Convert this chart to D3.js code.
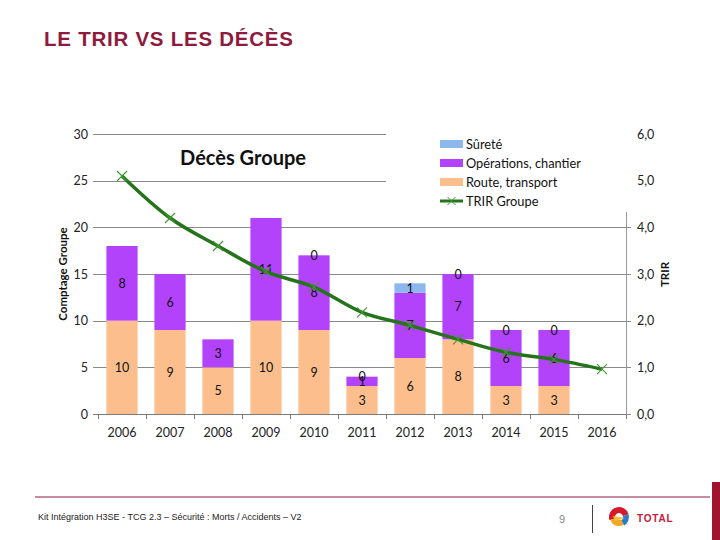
<!DOCTYPE html>
<html><head><meta charset="utf-8">
<script src="https://cdn.jsdelivr.net/npm/d3@7/dist/d3.min.js"></script>
<style>
html,body{margin:0;padding:0;background:#fff;}
svg{display:block;}
</style></head>
<body>
<svg id="c" width="720" height="540"></svg>
<script>
const years = ["2006","2007","2008","2009","2010","2011","2012","2013","2014","2015","2016"];
const route = [10, 9, 5, 10, 9, 3, 6, 8, 3, 3, null];
const operations = [8, 6, 3, 11, 8, 1, 7, 7, 6, 6, null];
const surete = [null, null, null, null, 0, 0, 1, 0, 0, 0, null];
const trir = [5.1, 4.2, 3.6, 3.05, 2.72, 2.18, 1.9, 1.6, 1.32, 1.17, 0.96];
const leftTicks = [0, 5, 10, 15, 20, 25, 30];
const rightTicks = [0, 1, 2, 3, 4, 5, 6];
const seriesNames = ["Sûreté", "Opérations, chantier", "Route, transport", "TRIR Groupe"];
const pageTitle = "LE TRIR VS LES DÉCÈS";
const chartTitle = "Décès Groupe";
const footerText = "Kit Intégration H3SE - TCG 2.3 – Sécurité : Morts / Accidents – V2";

const colors = {surete:"#8db8ee", ops:"#b342fb", route:"#fbbe8c", line:"#25741c", marker:"#3d9a2e"};
const font = "Lato, 'Open Sans', sans-serif";

const svg = d3.select("#c");
const X0 = 98, X1 = 626, Y0 = 414, Y1 = 134;

const x = d3.scaleBand().domain(years).range([X0, X1]).paddingInner(0.35).paddingOuter(0.175);
const y = d3.scaleLinear().domain([0, 30]).range([Y0, Y1]);
const y2 = d3.scaleLinear().domain([0, 6]).range([Y0, Y1]);

// page title
svg.append("text").attr("x", 44).attr("y", 46)
  .attr("font-family", "'Liberation Sans', Arial, sans-serif").attr("font-weight", "bold")
  .attr("font-size", 20.5).attr("letter-spacing", 0.75).attr("fill", "#8e1a3d").text(pageTitle);

// gridlines (left axis)
const g = svg.append("g");
g.selectAll("line.grid").data(leftTicks.filter(d => d > 0)).join("line")
  .attr("x1", X0 - 5).attr("x2", X1 + 5)
  .attr("y1", d => Math.round(y(d)) + 0.5).attr("y2", d => Math.round(y(d)) + 0.5)
  .attr("stroke", "#8a8a8a").attr("stroke-width", 1);
// baseline
g.append("line").attr("x1", X0 - 5).attr("x2", X1 + 5).attr("y1", Y0 + 0.5).attr("y2", Y0 + 0.5)
  .attr("stroke", "#7a7a7a");
// x ticks at band boundaries
const bounds = years.map(d => x(d) - x.step() * x.paddingInner() / 2).concat([X1]);
g.selectAll("line.xt").data(bounds).join("line")
  .attr("x1", d => Math.round(d) + 0.5).attr("x2", d => Math.round(d) + 0.5)
  .attr("y1", Y0).attr("y2", Y0 + 5).attr("stroke", "#7a7a7a");
// right axis line
g.append("line").attr("x1", X1 + 0.5).attr("x2", X1 + 0.5).attr("y1", Y1).attr("y2", Y0)
  .attr("stroke", "#9a9a9a");

// bars
const stackData = years.map((yr, i) => ({yr, route: route[i] || 0, ops: operations[i] || 0, sur: surete[i] || 0, i}));
const stack = d3.stack().keys(["route", "ops", "sur"])(stackData);
const fillFor = {route: colors.route, ops: colors.ops, sur: colors.surete};
const bars = svg.append("g");
stack.forEach(layer => {
  bars.selectAll(null).data(layer.filter(d => d[1] > d[0])).join("rect")
    .attr("x", d => x(d.data.yr)).attr("width", x.bandwidth())
    .attr("y", d => y(d[1])).attr("height", d => y(d[0]) - y(d[1]))
    .attr("fill", fillFor[layer.key]);
});

// data labels
const labels = svg.append("g").attr("font-family", font).attr("font-size", 12.5)
  .attr("text-anchor", "middle").attr("fill", "#111");
const labelSets = [
  {vals: route, base: () => 0},
  {vals: operations, base: i => route[i] || 0},
  {vals: surete, base: i => (route[i] || 0) + (operations[i] || 0)}
];
labelSets.forEach(ls => {
  ls.vals.forEach((v, i) => {
    if (v === null) return;
    const b = ls.base(i);
    labels.append("text").attr("x", x(years[i]) + x.bandwidth() / 2)
      .attr("y", y(b + v / 2)).attr("dy", "0.36em").text(v);
  });
});

// TRIR line
const lx = d => x(d) + x.bandwidth() / 2;
const line = d3.line().x((d, i) => lx(years[i])).y(d => y2(d)).curve(d3.curveCatmullRom.alpha(0.5));
svg.append("path").datum(trir).attr("d", line).attr("fill", "none")
  .attr("stroke", colors.line).attr("stroke-width", 3.5).attr("stroke-linejoin", "round");
const mk = svg.append("g").attr("stroke", colors.marker).attr("stroke-width", 1.1);
trir.forEach((v, i) => {
  const cx = lx(years[i]), cy = y2(v), s = 5;
  mk.append("path").attr("d", `M${cx - s},${cy - s}L${cx + s},${cy + s}M${cx - s},${cy + s}L${cx + s},${cy - s}`);
});

// left tick labels
svg.append("g").attr("font-family", font).attr("font-size", 12.5).attr("fill", "#222")
  .attr("text-anchor", "end")
  .selectAll("text").data(leftTicks).join("text")
  .attr("x", 88).attr("y", d => y(d)).attr("dy", "0.36em").text(d => d);

// x labels
svg.append("g").attr("font-family", font).attr("font-size", 12.5).attr("fill", "#222")
  .attr("text-anchor", "middle")
  .selectAll("text").data(years).join("text")
  .attr("x", d => lx(d)).attr("y", 437).text(d => d);

// axis titles
svg.append("text").attr("transform", "translate(67,274) rotate(-90)")
  .attr("font-family", font).attr("font-weight", "bold").attr("font-size", 11.5)
  .attr("text-anchor", "middle").attr("fill", "#111").text("Comptage Groupe");
svg.append("text").attr("transform", "translate(669,274.5) rotate(-90)")
  .attr("font-family", font).attr("font-weight", "bold").attr("font-size", 11.5)
  .attr("text-anchor", "middle").attr("fill", "#111").text("TRIR");

// chart title
svg.append("text").attr("x", 243).attr("y", 165).attr("text-anchor", "middle")
  .attr("font-family", font).attr("font-weight", "bold").attr("font-size", 20).attr("fill", "#111")
  .text(chartTitle);

// legend
const lg = svg.append("g");
lg.append("rect").attr("x", 386).attr("y", 126).attr("width", 246).attr("height", 86).attr("fill", "#fff");
const legColors = [colors.surete, colors.ops, colors.route];
seriesNames.forEach((n, i) => {
  const cy = 144 + i * 19;
  if (i < 3) {
    lg.append("rect").attr("x", 440).attr("y", cy - 4).attr("width", 23).attr("height", 8).attr("fill", legColors[i]);
  } else {
    lg.append("line").attr("x1", 440).attr("x2", 463).attr("y1", cy).attr("y2", cy)
      .attr("stroke", colors.line).attr("stroke-width", 3);
    lg.append("path").attr("d", `M${451.5 - 4},${cy - 4}L${451.5 + 4},${cy + 4}M${451.5 - 4},${cy + 4}L${451.5 + 4},${cy - 4}`)
      .attr("stroke", colors.marker).attr("stroke-width", 1);
  }
  lg.append("text").attr("x", 466).attr("y", cy).attr("dy", "0.36em")
    .attr("font-family", font).attr("font-size", 12.8).attr("fill", "#111").text(n);
});

// right tick labels (on top of legend)
svg.append("g").selectAll("line").data(rightTicks.filter(d => d <= 4)).join("line")
  .attr("x1", X1).attr("x2", X1 + 5)
  .attr("y1", d => Math.round(y2(d)) + 0.5).attr("y2", d => Math.round(y2(d)) + 0.5)
  .attr("stroke", "#8a8a8a");
svg.append("g").attr("font-family", font).attr("font-size", 12.5).attr("fill", "#222")
  .selectAll("text").data(rightTicks).join("text")
  .attr("x", 637).attr("y", d => y2(d)).attr("dy", "0.36em").text(d => d3.format(".1f")(d).replace(".", ","));

// footer
svg.append("line").attr("x1", 35).attr("x2", 710).attr("y1", 497).attr("y2", 497)
  .attr("stroke", "#8e1a3d").attr("stroke-width", 1);
svg.append("rect").attr("x", 712).attr("y", 482).attr("width", 8).attr("height", 58).attr("fill", "#a0142e");
svg.append("text").attr("x", 38).attr("y", 520).attr("font-family", "'Liberation Sans', Arial, sans-serif")
  .attr("font-size", 9).attr("fill", "#222").text(footerText);
svg.append("text").attr("x", 562).attr("y", 523).attr("text-anchor", "middle")
  .attr("font-family", "'Liberation Sans', Arial, sans-serif").attr("font-size", 11).attr("fill", "#888").text("9");
svg.append("line").attr("x1", 592.5).attr("x2", 592.5).attr("y1", 505).attr("y2", 533).attr("stroke", "#444");

// TOTAL logo (approx.)
const logo = svg.append("g").attr("transform", "translate(619,517)");
const arc = d3.arc();
logo.append("path").attr("d", arc({innerRadius: 4, outerRadius: 10, startAngle: -1.9, endAngle: 1.3})).attr("fill", "#d7192d");
logo.append("path").attr("d", arc({innerRadius: 4, outerRadius: 10, startAngle: 1.3, endAngle: 2.6})).attr("fill", "#2a7cc8");
logo.append("path").attr("d", arc({innerRadius: 3, outerRadius: 9, startAngle: 2.6, endAngle: 4.38})).attr("fill", "#f5a623");
logo.append("path").attr("d", "M-6,-1 L6,1 L-4,4 Z").attr("fill", "#f1c232");
svg.append("text").attr("x", 637).attr("y", 522).attr("font-family", "'Liberation Sans', Arial, sans-serif")
  .attr("font-weight", "bold").attr("font-size", 10).attr("fill", "#c4203a").attr("letter-spacing", 0.8)
  .text("TOTAL");
</script>
</body></html>
